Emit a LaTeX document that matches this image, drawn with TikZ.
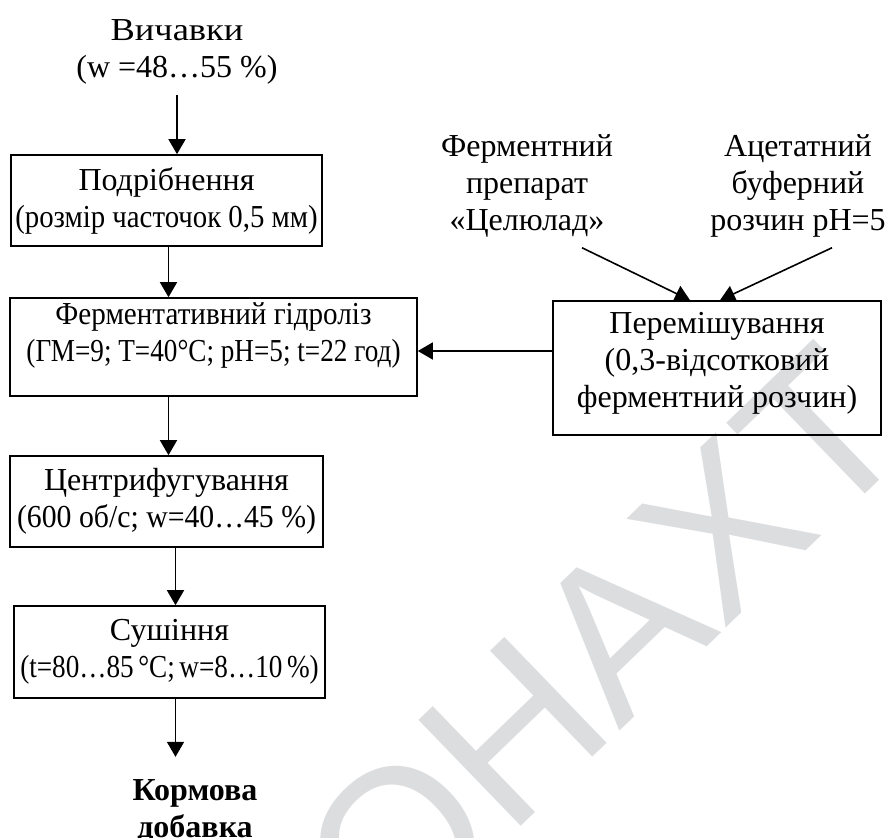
\documentclass[tikz,border=0pt]{standalone}
\usepackage{fontspec}
\usepackage{graphicx}
\setmainfont{Liberation Serif}
\newfontfamily\wmfont{Liberation Sans}
\usetikzlibrary{arrows.meta}
\definecolor{wmgray}{RGB}{220,221,223}
% squeeze or widen one line of text
\newcommand{\squeeze}[2]{\scalebox{#1}[1]{#2}}

\begin{document}
\begin{tikzpicture}[x=0.5pt, y=-0.5pt,
    font=\fontsize{16}{18.5}\selectfont,
    stage/.style={draw, line width=0.8pt, align=center, inner sep=1pt},
    lbl/.style={align=center, inner sep=5pt},
    arr/.style={line width=0.8pt, -{Triangle[length=7.5pt, width=8.5pt]}},
    wmark/.style={text=wmgray, font=\wmfont\fontsize{107}{107}\selectfont, inner sep=0pt}]
    \useasboundingbox (0,0) rectangle (887,838);

    % Watermark behind everything
    \node[wmark, rotate=44] (wm) at (603,645) {ОНАХТ};

    % Raw material
    \node[lbl] (pomace) at (177,52) {\squeeze{1.14}{Вичавки}\\(w =48…55 \%)};

    % Main line of stages
    \node[stage, minimum width=155.5pt, minimum height=45.5pt] (grind) at (166.5,200.5)
        {Подрібнення\\\squeeze{0.9}{(розмір часточок 0,5 мм)}};
    \node[stage, minimum width=203.5pt, minimum height=49pt, text depth=15pt] (hydro) at (213.5,347)
        {\squeeze{0.91}{Ферментативний гідроліз}\\\squeeze{0.85}{(ГМ=9; T=40°C; pH=5; t=22 год)}};
    \node[stage, minimum width=156.5pt, minimum height=45.5pt] (centr) at (166.5,501.5)
        {Центрифугування\\\squeeze{0.93}{(600 об/с; w=40…45 \%)}};
    \node[stage, minimum width=155.5pt, minimum height=46pt] (dry) at (169.5,652)
        {Сушіння\\\squeeze{0.85}{(t=80…85\,°C;\,w=8…10\,\%)}};

    % Product
    \node[lbl, inner ysep=11pt, font=\fontsize{16}{18.5}\selectfont\bfseries] (feed) at (195,811)
        {Кормова\\добавка};

    % Side branch - enzyme solution
    \node[lbl] (enzyme) at (527,186) {Ферментний\\препарат\\«Целюлад»};
    \node[lbl] (buffer) at (798,186) {Ацетатний\\буферний\\розчин pH=5};
    \node[stage, minimum width=164pt, minimum height=67pt, text depth=8pt] (mix) at (717,368)
        {Перемішування\\(0,3-відсотковий\\ферментний розчин)};

    % Connectors
    \draw[arr] (pomace.south) -- (pomace.south |- grind.north);
    \draw[arr] ([xshift=1pt]grind.south) -- ([xshift=1pt]grind.south |- hydro.north);
    \draw[arr] ([xshift=1pt]centr.north |- hydro.south) -- ([xshift=1pt]centr.north);
    \draw[arr] ([xshift=4.5pt]centr.south) -- ([xshift=4.5pt]centr.south |- dry.north);
    \draw[arr] ([xshift=3pt]dry.south) -- ([xshift=3pt]dry.south |- feed.north);
    \draw[arr] ([xshift=27.5pt]enzyme.south) -- ([xshift=-13.5pt]mix.north);
    \draw[arr] ([xshift=17pt]buffer.south) -- ([xshift=1.5pt]mix.north);
    \draw[arr] ([yshift=8.5pt]mix.west) -- ([yshift=8.5pt]mix.west -| hydro.east);
\end{tikzpicture}
\end{document}
